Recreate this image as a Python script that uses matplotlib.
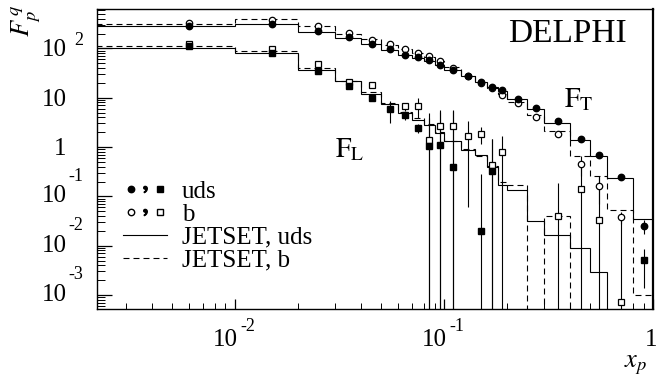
import numpy as np
import matplotlib
matplotlib.use('Agg')
import matplotlib.pyplot as plt
from matplotlib.lines import Line2D
from matplotlib.legend_handler import HandlerTuple

plt.rcParams['font.family'] = 'Liberation Serif'
plt.rcParams['mathtext.fontset'] = 'stix'
plt.rcParams['lines.scale_dashes'] = False

nan = np.nan

# bin edges of the JETSET histograms and the x_p of the data points
x_edges = [0.001, 0.01, 0.02, 0.03, 0.04, 0.05, 0.06, 0.07, 0.08, 0.09, 0.10,
           0.12, 0.14, 0.16, 0.18, 0.20, 0.25, 0.30, 0.40, 0.50, 0.60, 0.80, 1.0]
x_pts = [0.006, 0.015, 0.025, 0.035, 0.045, 0.055, 0.065, 0.075, 0.085, 0.095,
         0.11, 0.13, 0.15, 0.17, 0.19, 0.225, 0.275, 0.35, 0.45, 0.55, 0.70, 0.90]

# F_T data
ft_uds = [282, 315, 223, 170, 123, 95, 75, 68, 57, 46, 37, 28, 21, 16.6, 14.2,
          9.6, 6.2, 3.3, 1.47, 0.70, 0.249, 0.0256]
ft_uds_err = [5, 5, 4, 3, 2.5, 2, 1.6, 1.5, 1.3, 1.1, 0.9, 0.7, 0.6, 0.5, 0.45,
              0.3, 0.2, 0.12, 0.06, 0.04, 0.02, 0.008]
ft_b = [330, 373, 278, 207, 145, 120, 95, 79, 69.5, 55, 40, 27, 20, 16, 11.6,
        7.9, 4.1, 1.86, 0.46, 0.16, 0.0377, nan]
ft_b_err = [8, 8, 6, 5, 4, 3.5, 3, 2.5, 2.2, 2, 1.6, 1.2, 1, 0.8, 0.7,
            0.5, 0.3, 0.15, 0.2, 0.09, 0.01, nan]

# F_L data
fl_uds = [111, 81.5, 35.6, 16.9, 9.95, 5.8, 4.4, 2.45, 1.04, 1.12, 0.39, nan,
          0.0196, 0.333, nan, nan, nan, nan, nan, nan, nan, 0.00506]
fl_uds_err = [3, 2.5, 1.5, 1.0, 0.8, 2.8, 0.8, 0.5, 2.9, 3.9, 4.9, nan,
              0.26, 1.09, nan, nan, nan, nan, nan, nan, nan, 0.0037]
fl_b = [120, 95, 48, 20.8, 18.5, nan, 6.7, 6.95, 1.42, 2.64, 2.73, 1.71, 1.84,
        0.44, 0.80, nan, nan, 0.0395, 0.142, 0.0327, 7.1e-4, nan]
fl_b_err = [4, 3, 2, 1.5, 1.5, nan, 1.2, 3, 3.5, 3.0, 2.8, 1.65, 0.7,
            1.0, 0.9, nan, nan, 0.15, 0.32, 0.22, 0.037, nan]

# JETSET predictions per bin
jt_ft_uds = [291, 315, 217, 159, 120, 93, 75, 64, 55, 46, 37, 28, 21, 16.5, 13.5,
             9.2, 5.8, 3.1, 1.42, 0.65, 0.237, 0.035]
jt_ft_b = [315, 386, 291, 200, 152, 115, 95, 80, 68, 56, 41, 28, 20.5, 15.5, 12,
           8.2, 4.5, 2.16, 0.67, 0.264, 0.052, 0.001]
jt_fl_uds = [103, 81.5, 37.3, 21.6, 12, 7.3, 4.9, 3.6, 2.86, 1.94, 1.31, 0.89,
             0.70, 0.40, 0.173, 0.137, 0.0313, 0.0163, 0.0090, 0.0029, 0, 0]
jt_fl_b = [114, 88, 40, 22, 13, 7.8, 5.2, 3.8, 2.9, 2.0, 1.35, 0.9, 0.65, 0.42,
           0.20, 0.173, 0, 0.0395, 0, 0, 0, 0]

y_ticks = [1e-3, 1e-2, 1e-1, 1, 10, 100]
y_exp = ['-3', '-2', '-1', '', '', '2']
x_ticks = [0.01, 0.1, 1]
x_exp = ['-2', '-1', '']

fig = plt.figure(figsize=(6.61, 3.83), dpi=100)
ax = fig.add_axes([0.1463, 0.1932, 0.8421, 0.7825])
ax.set_xscale('log')
ax.set_yscale('log')

dash = (0, (4.3, 2.9))
for vals, ls in [(jt_ft_uds, '-'), (jt_ft_b, dash), (jt_fl_uds, '-'), (jt_fl_b, dash)]:
    ax.stairs(np.clip(vals, 1e-7, None), x_edges, baseline=None,
              color='black', lw=0.8, linestyle=ls, zorder=2)

ms = 4.6
ebk = dict(ecolor='black', elinewidth=0.8, capsize=0, ls='none', zorder=3)
ax.errorbar(x_pts, fl_b, yerr=fl_b_err, fmt='s', ms=ms, mfc='white', mec='black', mew=0.9, **ebk)
ax.errorbar(x_pts, fl_uds, yerr=fl_uds_err, fmt='s', ms=ms, mfc='black', mec='black', **ebk)
ax.errorbar(x_pts, ft_b, yerr=ft_b_err, fmt='o', ms=ms, mfc='white', mec='black', mew=0.9, **ebk)
ax.errorbar(x_pts, ft_uds, yerr=ft_uds_err, fmt='o', ms=ms, mfc='black', mec='black', **ebk)

ax.set_xlim(0.00218, 1.0)
ax.set_ylim(5.2e-4, 620)

for s in ax.spines.values():
    s.set_linewidth(1.0)
ax.spines['right'].set_linewidth(1.6)
ax.tick_params(which='both', direction='in', top=False, right=False)
ax.tick_params(axis='y', which='major', length=11, width=0.9)
ax.tick_params(axis='y', which='minor', length=5.5, width=0.7)
ax.tick_params(axis='x', which='major', length=7.5, width=0.9)
ax.tick_params(axis='x', which='minor', length=4, width=0.7)
ax.set_yticks(y_ticks)
ax.set_yticklabels([''] * len(y_ticks))
ax.set_xticks(x_ticks)
ax.set_xticklabels([''] * len(x_ticks))

# PAW style tick labels: mantissa and raised exponent
tfs = 18
efs = 13
for t, e in zip(y_ticks, y_exp):
    if e == '':
        lab = '1' if t == 1 else '10'
        ax.annotate(lab, xy=(0, t), xycoords=('axes fraction', 'data'),
                    xytext=(-21.5, -1.4), textcoords='offset points',
                    ha='right', va='center', fontsize=tfs)
    else:
        dy = -1.4 if e == '2' else 0
        ax.annotate('10', xy=(0, t), xycoords=('axes fraction', 'data'),
                    xytext=(-21.5, dy), textcoords='offset points',
                    ha='right', va='center', fontsize=tfs)
        ey = 5.5 if e == '2' else 14.4
        ax.annotate(e, xy=(0, t), xycoords=('axes fraction', 'data'),
                    xytext=(-9.8, ey), textcoords='offset points',
                    ha='right', va='center', fontsize=efs)
for t, e in zip(x_ticks, x_exp):
    if e == '':
        ax.annotate('1', xy=(t, 0), xycoords=('data', 'axes fraction'),
                    xytext=(-1.5, -22.5), textcoords='offset points',
                    ha='center', va='center', fontsize=tfs)
    else:
        ax.annotate('10', xy=(t, 0), xycoords=('data', 'axes fraction'),
                    xytext=(2.2, -22.5), textcoords='offset points',
                    ha='right', va='center', fontsize=tfs)
        ax.annotate(e, xy=(t, 0), xycoords=('data', 'axes fraction'),
                    xytext=(4, -12.5), textcoords='offset points',
                    ha='left', va='center', fontsize=efs)

ax.text(0.845, 0.918, 'DELPHI', transform=ax.transAxes, ha='center', va='center', fontsize=24)
ax.text(0.866, 0.697, r'$\mathrm{F}_\mathrm{T}$', transform=ax.transAxes, ha='center', va='center', fontsize=20)
ax.text(0.455, 0.53, r'$\mathrm{F}_\mathrm{L}$', transform=ax.transAxes, ha='center', va='center', fontsize=20)

fig.text(0.038, 0.945, r'$F^{\,q}_{p}$', rotation=90, ha='center', va='center', fontsize=19)
fig.text(0.962, 0.045, r'$x_p$', ha='center', va='center', fontsize=19)

# legend
h_uds = (Line2D([], [], marker='o', ls='none', color='black', ms=4.6),
         Line2D([], [], marker='$,$', ls='none', color='black', ms=4.5),
         Line2D([], [], marker='s', ls='none', color='black', ms=4.6))
h_b = (Line2D([], [], marker='o', ls='none', mfc='white', mec='black', ms=4.6),
       Line2D([], [], marker='$,$', ls='none', color='black', ms=4.5),
       Line2D([], [], marker='s', ls='none', mfc='white', mec='black', ms=4.6))
h_ju = Line2D([], [], color='black', lw=0.8)
h_jb = Line2D([], [], color='black', lw=0.8, linestyle=dash)
ax.legend([h_uds, h_b, h_ju, h_jb], ['uds', 'b', 'JETSET, uds', 'JETSET, b'],
          handler_map={tuple: HandlerTuple(ndivide=None, pad=0)},
          loc='upper left', bbox_to_anchor=(0.048, 0.43), frameon=False,
          fontsize=18, borderpad=0, borderaxespad=0, handlelength=1.75,
          handletextpad=0.6, labelspacing=0.02)

fig.savefig('out.png', dpi=100)
